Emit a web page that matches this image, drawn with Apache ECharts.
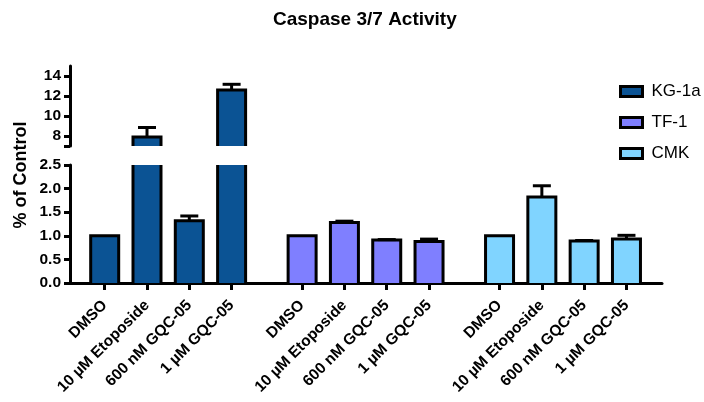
<!DOCTYPE html>
<html>
<head>
<meta charset="utf-8">
<script src="https://cdn.jsdelivr.net/npm/echarts@6/dist/echarts.min.js"></script>
<style>html,body{margin:0;padding:0;background:#fff;}#chart{width:704px;height:402px;}</style>
</head>
<body>
<div id="chart"></div>
<script>
// ---- data ----
const categories = ['DMSO', '10 µM Etoposide', '600 nM GQC-05', '1 µM GQC-05'];
const cellLines = ['KG-1a', 'TF-1', 'CMK'];
const kg1a = [1.0, 7.9, 1.32, 12.6];
const kg1aErr = [0, 0.95, 0.1, 0.57];
const tf1 = [1.0, 1.28, 0.91, 0.88];
const tf1Err = [0, 0.03, 0.01, 0.05];
const cmk = [1.0, 1.82, 0.89, 0.93];
const cmkErr = [0, 0.24, 0.01, 0.08];
const lowerTicks = [0, 0.5, 1.0, 1.5, 2.0, 2.5];
const upperTicks = [8, 10, 12, 14];

const values = [kg1a, tf1, cmk];
const errors = [kg1aErr, tf1Err, cmkErr];
const colors = ['#0b5394', '#7f7fff', '#80d4ff'];

// ---- layout helpers ----
const GROUP_STEP = 14 / 3;
function pos(g, i) { return g * GROUP_STEP + i; }
const X_MIN = -0.82, X_MAX = pos(2, 3) + 0.84;
const LOW = [0, 2.5], UP = [7, 15];
const BAR_W = 28;

const tickPositions = [];
const tickLabels = {};
for (let g = 0; g < 3; g++) for (let i = 0; i < 4; i++) {
  const p = pos(g, i);
  tickPositions.push(p);
  tickLabels[p.toFixed(3)] = categories[i];
}

function outlineRenderer(range) {
  return function (params, api) {
    const x = api.value(0), v = api.value(1), e = api.value(2);
    const clipped = v > range[1];
    const top = Math.min(v, range[1]);
    const pb = api.coord([x, range[0]]);
    const pt = api.coord([x, top]);
    const hw = BAR_W / 2;
    const st = { stroke: '#000', lineWidth: 3, fill: null };
    const children = [];
    if (clipped) {
      children.push({ type: 'line', shape: { x1: pb[0] - hw, y1: pb[1], x2: pt[0] - hw, y2: pt[1] }, style: st });
      children.push({ type: 'line', shape: { x1: pb[0] + hw, y1: pb[1], x2: pt[0] + hw, y2: pt[1] }, style: st });
    } else {
      children.push({ type: 'polyline', shape: { points: [[pb[0] - hw, pb[1]], [pt[0] - hw, pt[1]], [pt[0] + hw, pt[1]], [pb[0] + hw, pb[1]]] }, style: st });
      if (e > 0) {
        const pe = api.coord([x, v + e]);
        children.push({ type: 'line', shape: { x1: pt[0], y1: pt[1], x2: pe[0], y2: pe[1] }, style: st });
        children.push({ type: 'line', shape: { x1: pe[0] - 9, y1: pe[1], x2: pe[0] + 9, y2: pe[1] }, style: st });
      }
    }
    return { type: 'group', children: children };
  };
}

const series = [];
const lowerOutline = [], upperOutline = [];
cellLines.forEach(function (name, g) {
  const lowData = values[g].map(function (v, i) { return [pos(g, i), v]; });
  const upData = values[g].map(function (v, i) { return [pos(g, i), v > LOW[1] ? v : '-']; });
  series.push({ name: name, type: 'bar', xAxisIndex: 0, yAxisIndex: 0, data: lowData, barWidth: BAR_W, barGap: '-100%',
    itemStyle: { color: colors[g], borderWidth: 0 }, clip: true, silent: true });
  series.push({ name: name, type: 'bar', xAxisIndex: 1, yAxisIndex: 1, data: upData, barWidth: BAR_W, barGap: '-100%',
    itemStyle: { color: colors[g], borderWidth: 0 }, clip: true, silent: true });
  values[g].forEach(function (v, i) {
    lowerOutline.push([pos(g, i), v, errors[g][i]]);
    if (v > LOW[1]) upperOutline.push([pos(g, i), v, errors[g][i]]);
  });
});
series.push({ type: 'custom', name: 'outlineLow', xAxisIndex: 0, yAxisIndex: 0, data: lowerOutline, renderItem: outlineRenderer(LOW), z: 5, clip: false, silent: true });
series.push({ type: 'custom', name: 'outlineUp', xAxisIndex: 1, yAxisIndex: 1, data: upperOutline, renderItem: outlineRenderer(UP), z: 5, clip: false, silent: true });

const axisLineStyle = { color: '#000', width: 3 };
const fontFam = '"Liberation Sans", Arial, sans-serif';

const option = {
  animation: false,
  backgroundColor: '#fff',
  title: {
    text: 'Caspase 3/7 Activity', left: 268, top: 5,
    textStyle: { fontFamily: fontFam, fontWeight: 'bold', fontSize: 19, color: '#000' }
  },
  legend: {
    data: cellLines, orient: 'vertical', left: 614, top: 78,
    icon: 'rect', itemWidth: 22, itemHeight: 10, itemGap: 14,
    itemStyle: { borderColor: '#000', borderWidth: 3 },
    textStyle: { fontFamily: fontFam, fontSize: 17, color: '#000', padding: [0, 0, 0, 4], lineHeight: 17 }
  },
  graphic: [{
    type: 'text', x: 21, y: 175, rotation: Math.PI / 2,
    style: { text: '% of Control', fontFamily: fontFam, fontWeight: 'bold', fontSize: 18, fill: '#000', align: 'center', verticalAlign: 'middle' }
  }],
  grid: [
    { left: 70, right: 42, top: 165, height: 118 },
    { left: 70, right: 42, top: 66, height: 80 }
  ],
  xAxis: [
    {
      type: 'value', gridIndex: 0, min: X_MIN, max: X_MAX, splitLine: { show: false },
      axisLine: { show: true, lineStyle: axisLineStyle, onZero: false },
      axisTick: { show: true, customValues: tickPositions, length: 7, lineStyle: { color: '#000', width: 3 } },
      axisLabel: {
        customValues: tickPositions, rotate: 45, margin: 20,
        fontFamily: fontFam, fontWeight: 'bold', fontSize: 15.5, color: '#000',
        formatter: function (v) { return tickLabels[Number(v).toFixed(3)] || ''; }
      }
    },
    { type: 'value', gridIndex: 1, min: X_MIN, max: X_MAX, show: false }
  ],
  yAxis: [
    {
      type: 'value', gridIndex: 0, min: LOW[0], max: LOW[1], interval: 0.5,
      splitLine: { show: false },
      axisLine: { show: true, lineStyle: axisLineStyle, onZero: false },
      axisTick: { show: true, customValues: lowerTicks, length: 6, lineStyle: { color: '#000', width: 3 } },
      axisLabel: { customValues: lowerTicks, margin: 9, fontFamily: fontFam, fontWeight: 'bold', fontSize: 15.5, color: '#000',
        formatter: function (v) { return Number(v).toFixed(1); } }
    },
    {
      type: 'value', gridIndex: 1, min: UP[0], max: UP[1],
      splitLine: { show: false },
      axisLine: { show: true, lineStyle: axisLineStyle, onZero: false },
      axisTick: { show: true, customValues: [UP[0]].concat(upperTicks), length: 6, lineStyle: { color: '#000', width: 3 } },
      axisLabel: { customValues: upperTicks, margin: 9, fontFamily: fontFam, fontWeight: 'bold', fontSize: 15.5, color: '#000' }
    }
  ],
  series: series
};

const chart = echarts.init(document.getElementById('chart'), null, { renderer: 'canvas' });
chart.setOption(option);
</script>
</body>
</html>
